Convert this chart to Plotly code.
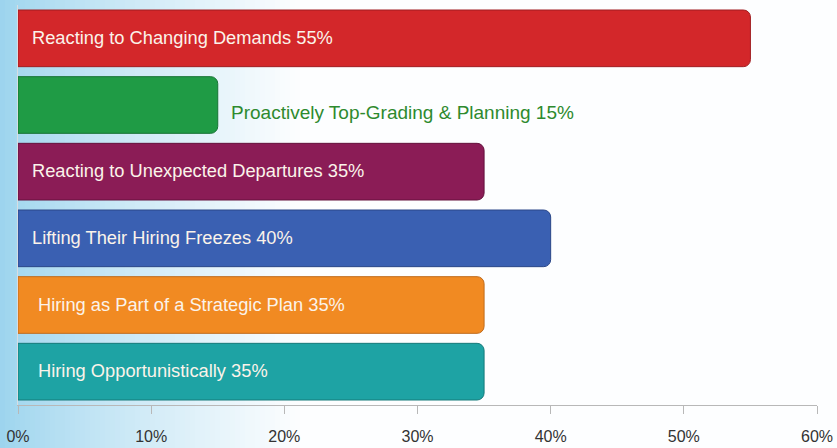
import plotly.graph_objects as go

# Survey results: share of companies by hiring approach
categories = [
    "Reacting to Changing Demands",
    "Proactively Top-Grading & Planning",
    "Reacting to Unexpected Departures",
    "Lifting Their Hiring Freezes",
    "Hiring as Part of a Strategic Plan",
    "Hiring Opportunistically",
]
values = [55, 15, 35, 40, 35, 35]
bar_colors = ["#d3272a", "#1f9b45", "#8b1c56", "#3a60b2", "#f18a22", "#1ea3a4"]
edge_colors = ["#a01d20", "#167334", "#64103c", "#2a4688", "#c06b1c", "#157a7a"]
x_ticks = [0, 10, 20, 30, 40, 50, 60]

FONT = "Liberation Sans, Arial, sans-serif"

W, H = 837, 448
ML, MR, MT, MB = 18, 20, 5, 43
plot_w = W - ML - MR

fig = go.Figure()

# y positions: first category at the top
ypos = list(range(len(categories)))[::-1]

fig.add_trace(go.Bar(
    x=values,
    y=ypos,
    orientation="h",
    marker=dict(color=bar_colors, line=dict(color=edge_colors, width=1), cornerradius=7),
    width=0.85,
    hoverinfo="skip",
    showlegend=False,
))

# Labels: inside the bar when there is room, otherwise just past its end
annotations = []
indent = [12, 0, 12, 12, 18, 18]
for i, (name, v) in enumerate(zip(categories, values)):
    label = f"{name} {v}%"
    if v >= 30:
        annotations.append(dict(
            x=0, y=ypos[i], xref="x", yref="y", text=label, showarrow=False,
            xanchor="left", yanchor="middle", xshift=indent[i], yshift=1,
            font=dict(family=FONT, size=18.3, color="#fbf3ea"),
        ))
    else:
        annotations.append(dict(
            x=v, y=ypos[i], xref="x", yref="y", text=label, showarrow=False,
            xanchor="left", yanchor="middle", xshift=11, yshift=-7,
            font=dict(family=FONT, size=19, color="#2e8a2e"),
        ))

# Background wash: light blue on the left fading to white
shapes = []
n = 60
x0_paper = -ML / plot_w
x1_paper = (W - ML) / plot_w
fade_px = 300
for k in range(n):
    px0 = fade_px * k / n
    px1 = fade_px * (k + 1) / n
    t = ((k + 0.5) / n) ** 0.8
    r = int(155 + (253 - 155) * t)
    g = int(212 + (254 - 212) * t)
    b = int(238 + (255 - 238) * t)
    shapes.append(dict(
        type="rect", xref="paper", yref="paper", layer="below",
        x0=x0_paper + px0 / plot_w, x1=x0_paper + px1 / plot_w + 0.002,
        y0=-MB / (H - MT - MB), y1=1 + MT / (H - MT - MB),
        fillcolor=f"rgb({r},{g},{b})", line=dict(width=0),
    ))
shapes.append(dict(
    type="rect", xref="paper", yref="paper", layer="below",
    x0=x0_paper + fade_px / plot_w, x1=x1_paper,
    y0=-MB / (H - MT - MB), y1=1 + MT / (H - MT - MB),
    fillcolor="#fdfeff", line=dict(width=0),
))

fig.update_layout(
    width=W, height=H,
    margin=dict(l=ML, r=MR, t=MT, b=MB, autoexpand=False),
    paper_bgcolor="white",
    plot_bgcolor="rgba(0,0,0,0)",
    shapes=shapes,
    annotations=annotations,
    xaxis=dict(
        range=[0, 60], tickvals=x_ticks, ticktext=[f"{t}%" for t in x_ticks],
        showgrid=False, zeroline=False, showline=True, linecolor="#b8b8b8", linewidth=1,
        ticks="outside", ticklen=8, tickcolor="#b8b8b8", ticklabelstandoff=9,
        tickfont=dict(family=FONT, size=16, color="#333333"),
        automargin=False, fixedrange=True,
    ),
    yaxis=dict(
        range=[-0.5, 5.5], showticklabels=False, showgrid=False, zeroline=False,
        showline=True, linecolor="#d8dde2", linewidth=1, fixedrange=True,
        automargin=False,
    ),
    bargap=0.15,
)

fig.write_html("out.html")
